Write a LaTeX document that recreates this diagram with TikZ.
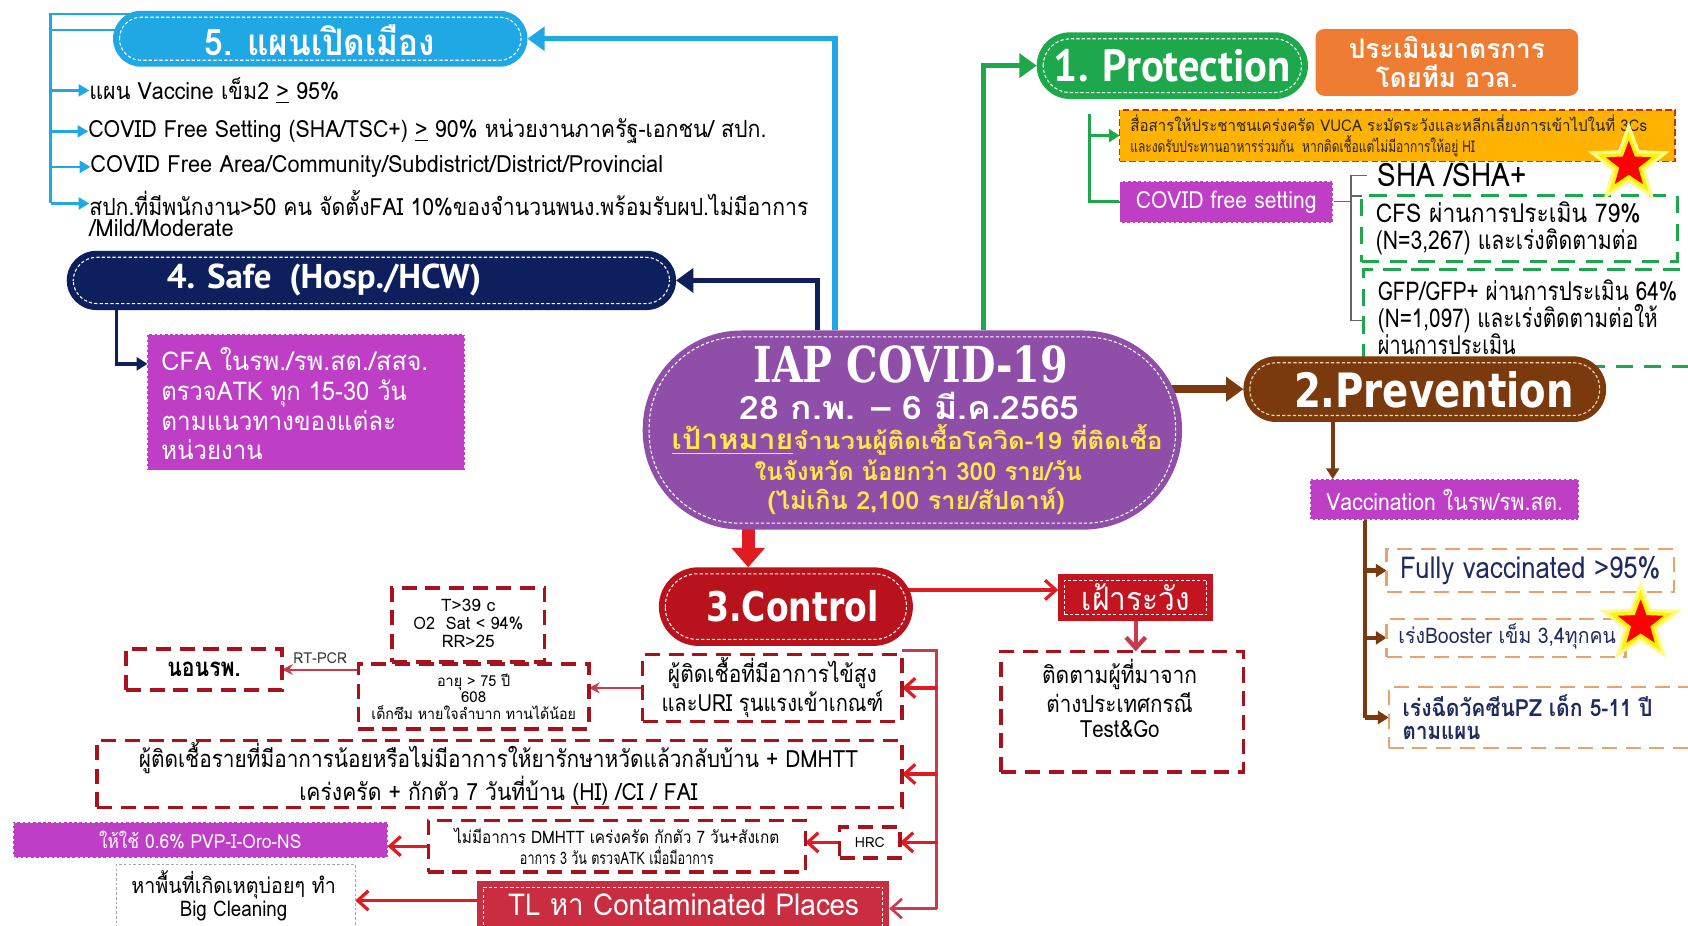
\documentclass[tikz,border=0pt]{standalone}
\usepackage{fontspec}
\usepackage{graphicx}
\usetikzlibrary{arrows.meta,shapes.geometric,fit,calc}
\setmainfont[Script=Thai]{Loma}
\newfontfamily\hsans{DejaVu Sans}
\newfontfamily\hcond{PT Sans}
\newfontfamily\hserif{DejaVu Serif}
\newcommand\fw[2]{\resizebox{#1}{\height}{#2}}
\newcommand\indash[3]{\draw[#3,line width=0.5pt,dash pattern=on 1.5pt off 1pt,rounded corners=#2] ([shift={(6,-6)}]#1.south west) rectangle ([shift={(-6,6)}]#1.north east);}
\definecolor{cblue}{HTML}{1FA8E4}
\definecolor{cnavy}{HTML}{0D1F5C}
\definecolor{cgreen}{HTML}{1EA84C}
\definecolor{corange}{HTML}{EE7D33}
\definecolor{cyel}{HTML}{FFB300}
\definecolor{cmag}{HTML}{BE3FC6}
\definecolor{cpurp}{HTML}{8F4FA8}
\definecolor{cbrown}{HTML}{7A3A0E}
\definecolor{cdred}{HTML}{B8121C}
\definecolor{cwatch}{HTML}{C3141F}
\definecolor{ctl}{HTML}{C92D3F}
\definecolor{cbox}{HTML}{A8121D}
\definecolor{cred}{HTML}{E11B22}
\definecolor{cpink}{HTML}{C83A4C}
\definecolor{cvnavy}{HTML}{1F2A60}
\definecolor{cvdash}{HTML}{E8A26A}
\definecolor{cgold}{HTML}{FFE84A}
\pgfdeclarelayer{back}
\pgfdeclarelayer{lines}
\pgfsetlayers{back,lines,main}
\begin{document}
\begin{tikzpicture}[x=0.5pt,y=-0.5pt,
  every node/.style={inner sep=0pt,outer sep=0pt},
  pill/.style={fill=#1,text=white},
  magbox/.style={fill=cmag,text=white,draw=white,line width=0.8pt,dash pattern=on 1.2pt off 1.2pt},
  rbox/.style={draw=cbox,line width=1.6pt,dash pattern=on 7pt off 4pt},
  vbox/.style={draw=cvdash,line width=1.1pt,dash pattern=on 7pt off 4pt},
  gbox/.style={draw=cgreen,line width=1.4pt,dash pattern=on 8pt off 5pt},
  bl/.style={draw=cblue,line width=1.2pt},
  blarr/.style={bl,-{Triangle[length=5pt,width=5.5pt]}},
  redarr/.style={draw=cred,line width=1.5pt,-{Straight Barb[length=5pt,width=9pt]}},
  pinkarr/.style={draw=cpink,line width=1.2pt,-{Straight Barb[length=5pt,width=9pt]}},
  pinkthin/.style={draw=cpink,line width=1pt,-{Stealth[length=5pt,width=5pt]}},
  brarr/.style={draw=cbrown,line width=2pt,-{Triangle[length=5pt,width=6pt]}},
  kline/.style={draw=black!60,line width=0.6pt},
  mystar/.style={star,star points=5,star point ratio=2.4,minimum size=27pt,fill=red,draw=yellow,line width=1.5pt,preaction={draw=yellow!45,line width=4.5pt}}
]
\begin{pgfonlayer}{back}
\fill[white] (0,0) rectangle (1568,860);
\end{pgfonlayer}
\useasboundingbox (0,0) rectangle (1568,860);

% ---------- 5 ----------
\node[pill=cblue,rounded corners=13pt,fit={(105,10)(490,62)}] (p5) {};
\indash{p5}{10pt}{white}
\node[text=white,font=\bfseries\fontsize{17}{19}\selectfont] (p5t) at (297,37) {\fw{107pt}{5. แผนเปิดเมือง}};
\node[anchor=west,font=\fontsize{11}{13}\selectfont] (l1) at (83,84) {\fw{116pt}{แผน Vaccine เข็ม2 \underline{>} 95\%}};
\node[anchor=west,font=\fontsize{11}{13}\selectfont] (l2) at (82,122) {\fw{315pt}{COVID Free Setting (SHA/TSC+) \underline{>} 90\% หน่วยงานภาครัฐ-เอกชน/ สปก.}};
\node[anchor=west,font=\fontsize{11}{13}\selectfont] (l3) at (84,155) {\fw{266pt}{COVID Free Area/Community/Subdistrict/District/Provincial}};
\node[anchor=west,font=\fontsize{11}{13}\selectfont] (l4) at (83,189) {\fw{334pt}{สปก.ที่มีพนักงาน>50 คน จัดตั้งFAI 10\%ของจำนวนพนง.พร้อมรับผป.ไม่มีอาการ}};
\node[anchor=west,font=\fontsize{11}{13}\selectfont] (l5) at (83,212) {\fw{67pt}{/Mild/Moderate}};

% ---------- 4 ----------
\node[pill=cnavy,rounded corners=13.75pt,fit={(62,233)(628,288)}] (p4) {};
\indash{p4}{11pt}{white}
\node[text=white,font=\hcond\bfseries\fontsize{16}{18}\selectfont] (p4t) at (301,260) {\fw{146pt}{4. Safe\ \ (Hosp./HCW)}};
\node[magbox,fit={(137,310)(432,437)}] (cfa) {};
\node[anchor=west,align=left,text=white,font=\fontsize{12}{13.75}\selectfont] (cfat) at (150,375) {\fw{124pt}{CFA ในรพ./รพ.สต./สสจ.}\\\fw{114pt}{ตรวจATK ทุก 15-30 วัน}\\\fw{109pt}{ตามแนวทางของแต่ละ}\\\fw{47pt}{หน่วยงาน}};

% ---------- IAP ----------
\node[pill=cpurp,rounded corners=46pt,fit={(597,307)(1098,492)}] (iap) {};
\indash{iap}{42pt}{white}
\node[text=white,font=\hserif\bfseries\fontsize{23}{25}\selectfont] (iap1) at (846,339) {\fw{146pt}{IAP COVID-19}};
\node[text=white,font=\bfseries\fontsize{15}{17}\selectfont] (iap2) at (845,377) {\fw{158pt}{28 ก.พ. – 6 มี.ค.2565}};
\node[text=cgold,font=\bfseries\fontsize{11}{13}\selectfont] (iap3) at (852,409) {\fw{228pt}{{\fontsize{13}{15}\selectfont\underline{เป้าหมาย}}จำนวนผู้ติดเชื้อโควิด-19 ที่ติดเชื้อ}};
\node[text=cgold,font=\bfseries\fontsize{11.5}{13}\selectfont] (iap4) at (853,437) {\fw{152pt}{ในจังหวัด น้อยกว่า 300 ราย/วัน}};
\node[text=cgold,font=\bfseries\fontsize{11.5}{13}\selectfont] (iap5) at (851,466) {\fw{138pt}{(ไม่เกิน 2,100 ราย/สัปดาห์)}};

% ---------- 1 ----------
\node[pill=cgreen,rounded corners=15.5pt,fit={(963,30)(1215,92)}] (p1) {};
\indash{p1}{12.5pt}{white}
\node[text=white,font=\hcond\bfseries\fontsize{21}{23}\selectfont] (p1t) at (p1.center) {\fw{110pt}{1. Protection}};
\node[fill=corange,rounded corners=4pt,fit={(1222,27)(1466,89)}] (ev) {};
\node[text=white,align=center,font=\bfseries\fontsize{12.5}{13.5}\selectfont] (evt) at (ev.center) {\fw{91pt}{ประเมินมาตรการ}\\\fw{66pt}{โดยทีม อวล.}};
\node[fill=cyel,draw=cbox!70!orange,line width=0.8pt,dash pattern=on 3pt off 1.5pt,fit={(1040,102)(1556,150)}] (yb) {};
\node[anchor=west,align=left,text=black!85,font=\fontsize{7.5}{9.5}\selectfont] (ybt) at (1050,126) {\fw{240pt}{สื่อสารให้ประชาชนเคร่งครัด VUCA ระมัดระวังและหลีกเลี่ยงการเข้าไปในที่ 3Cs}\\\fw{160pt}{และงดรับประทานอาหารร่วมกัน\ \ หากติดเชื้อแต่ไม่มีอาการให้อยู่ HI}};
\node[magbox,fit={(1040,168)(1238,207)}] (cfs) {};
\node[text=white,font=\fontsize{11}{13}\selectfont] (cfst0) at (cfs.center) {\fw{84pt}{COVID free setting}};
\node[anchor=west,font=\fontsize{15}{17}\selectfont] (sha) at (1280,163) {\fw{69pt}{SHA /SHA+}};
\node[gbox,fit={(1265,182)(1558,243)}] (cfsb) {};
\node[anchor=west,align=left,font=\fontsize{12}{12.5}\selectfont] (cfst) at (1278,212) {\fw{123pt}{CFS ผ่านการประเมิน 79\%}\\\fw{122pt}{(N=3,267) และเร่งติดตามต่อ}};
\node[gbox,fit={(1267,250)(1590,340)}] (gfpb) {};
\node[anchor=west,align=left,font=\fontsize{12}{12.5}\selectfont] (gfpt) at (1280,295) {\fw{139pt}{GFP/GFP+ ผ่านการประเมิน 64\%}\\\fw{130pt}{(N=1,097) และเร่งติดตามต่อให้}\\\fw{64pt}{ผ่านการประเมิน}};
\node[mystar] (st1) at (1513,153) {};

% ---------- 2 ----------
\node[pill=cbrown,rounded corners=15.25pt,fit={(1155,331)(1492,392)}] (p2) {};
\indash{p2}{12pt}{orange!30}
\node[text=white,font=\hsans\bfseries\fontsize{22}{24}\selectfont] (p2t) at (1332,362) {\fw{130pt}{2.Prevention}};
\node[magbox,fit={(1217,445)(1467,483)}] (vac) {};
\node[text=white,font=\fontsize{11}{13}\selectfont] (vact) at (vac.center) {\fw{110pt}{Vaccination ในรพ/รพ.สต.}};
\node[vbox,fit={(1288,510)(1555,550)}] (fv) {};
\node[text=cvnavy,font=\fontsize{14}{16}\selectfont] (fvt) at (fv.center) {\fw{121pt}{Fully vaccinated >95\%}};
\node[vbox,fit={(1288,575)(1510,610)}] (bo) {};
\node[text=cvnavy,font=\fontsize{10}{12}\selectfont] (bot) at (1400,591) {\fw{101pt}{เร่งBooster เข็ม 3,4ทุกคน}};
\node[vbox,fit={(1290,638)(1590,695)}] (pz) {};
\node[anchor=west,align=left,text=cvnavy,font=\bfseries\fontsize{11}{11}\selectfont] (pzt) at (1303,666) {\fw{116pt}{เร่งฉีดวัคซีนPZ เด็ก 5-11 ปี}\\\fw{36pt}{ตามแผน}};
\node[mystar] (st2) at (1524,579) {};

% ---------- 3 ----------
\node[pill=cdred,rounded corners=18.25pt,fit={(612,527)(848,600)}] (ctl) {};
\indash{ctl}{15pt}{white}
\node[text=white,font=\hsans\bfseries\fontsize{19}{21}\selectfont] (ctlt) at (736,563) {\fw{80pt}{3.Control}};
\node[fill=cwatch,fit={(983,533)(1127,577)}] (fw) {};
\indash{fw}{0pt}{white}
\node[text=white,font=\fontsize{15}{17}\selectfont] (fwt) at (fw.center) {\fw{50pt}{เฝ้าระวัง}};
\node[rbox,fit={(930,605)(1155,717)}] (tg) {};
\node[align=center,font=\fontsize{11}{12}\selectfont] (tgt) at (1040,649) {\fw{72pt}{ติดตามผู้ที่มาจาก}\\\fw{68pt}{ต่างประเทศกรณี}\\\fw{37pt}{Test\&Go}};
\node[rbox,fit={(597,608)(838,670)}] (fever) {};
\node[align=center,font=\fontsize{11}{12}\selectfont] (fevert) at (fever.center) {\fw{97pt}{ผู้ติดเชื้อที่มีอาการไข้สูง}\\\fw{103pt}{และURI รุนแรงเข้าเกณฑ์}};
\node[rbox,fit={(364,546)(506,615)}] (tb) {};
\node[align=center,font=\fontsize{8}{8.5}\selectfont] (tbt) at (435,579) {T>39 c\\\fw{51pt}{O2\ \ Sat < 94\%}\\RR>25};
\node[rbox,fill=white,fit={(333,617)(547,677)}] (age) {};
\node[align=center,font=\fontsize{7}{7.75}\selectfont] (aget) at (age.center) {\fw{34pt}{อายุ > 75 ปี}\\608\\\fw{95pt}{เด็กซึม หายใจลำบาก ทานได้น้อย}};
\node[rbox,fit={(117,603)(262,641)}] (nr) {};
\node[font=\bfseries\fontsize{12}{14}\selectfont] (nrt) at (nr.center) {\fw{34pt}{นอนรพ.}};
\node[rbox,fit={(90,688)(838,750)}] (big) {};
\node[align=center,font=\fontsize{11}{12}\selectfont] (bigt) at (463,719) {\fw{334pt}{ผู้ติดเชื้อรายที่มีอาการน้อยหรือไม่มีอาการให้ยารักษาหวัดแล้วกลับบ้าน + DMHTT}\\\fw{185pt}{เคร่งครัด + กักตัว 7 วันที่บ้าน (HI) /CI / FAI}};
\node[rbox,fit={(780,768)(836,797)}] (hrc) {};
\node[font=\fontsize{6.5}{8}\selectfont] (hrct) at (hrc.center) {HRC};
\node[rbox,fit={(398,762)(748,810)}] (nosym) {};
\node[align=center,font=\fontsize{8}{9.5}\selectfont] (nosymt) at (nosym.center) {\fw{151pt}{ไม่มีอาการ DMHTT เคร่งครัด กักตัว 7 วัน+สังเกต}\\\fw{90pt}{อาการ 3 วัน ตรวจATK เมื่อมีอาการ}};
\node[magbox,fit={(12,764)(360,797)}] (pvp) {};
\node[text=white,font=\fontsize{9}{11}\selectfont] (pvpt) at (pvp.center) {\fw{94pt}{ให้ใช้ 0.6\% PVP-I-Oro-NS}};
\node[fill=ctl,fit={(443,818)(826,870)}] (tl) {};
\indash{tl}{0pt}{white}
\node[text=white,font=\fontsize{14}{16}\selectfont] (tlt) at (635,840) {\fw{163pt}{TL หา Contaminated Places}};
\node[draw=gray!70,line width=0.5pt,dash pattern=on 1.2pt off 1pt,fit={(108,803)(330,870)}] (bc) {};
\node[align=center,font=\fontsize{10}{10.5}\selectfont] (bct) at (217,832) {\fw{95pt}{หาพื้นที่เกิดเหตุบ่อยๆ ทำ}\\\fw{50pt}{Big Cleaning}};

% ---------- connectors ----------
\begin{pgfonlayer}{lines}
\draw[cblue,line width=2.5pt,-{Triangle[length=8pt,width=11pt]}] ([xshift=-36pt]iap.north) |- (p5.east);
\draw[cnavy,line width=2.5pt,-{Triangle[length=8pt,width=11pt]}] ([xshift=-44pt]iap.north) |- (p4.east);
\draw[cgreen,line width=2.5pt,-{Triangle[length=8pt,width=11pt]}] ([xshift=33pt]iap.north) |- (p1.west);
\coordinate (v5a) at (47,13);
\coordinate (v5b) at (47,28);
\draw[bl] (p5.center |- v5a) -- (v5a) -- (v5a |- l4.west);
\draw[bl] (p5.center |- v5b) -- (v5b);
\draw[blarr] (v5a |- l1.west) -- (l1.west);
\draw[blarr] (v5a |- l2.west) -- (l2.west);
\draw[blarr] (v5a |- l3.west) -- (l3.west);
\draw[blarr] (v5a |- l4.west) -- (l4.west);
\coordinate (c4) at (108,338);
\draw[cnavy,line width=1.6pt,-{Triangle[length=5pt,width=6pt]}] (p4.center -| c4) -- (c4) -- (c4 -| cfa.west);
\coordinate (g1) at (1012,106);
\draw[cgreen,line width=1.5pt,-{Triangle[length=5pt,width=6pt]}] (g1) |- (yb.west);
\draw[cgreen,line width=1.5pt] (g1) |- (cfs.west);
\coordinate (k1) at (1255,163);
\coordinate (k2) at (1255,298);
\draw[kline] (cfs.east) -- (cfs.east -| k1);
\draw[kline] ([xshift=-5pt]sha.west) -- (k1) -- (k2) -- (k2 -| gfpb.west);
\draw[kline] (k1 |- cfsb.north) -- (cfsb.north west);
\draw[cbrown,line width=4pt,-{Triangle[length=8pt,width=11pt]}] (iap.center |- p2.west) -- (p2.west);
\coordinate (vx) at (1238,0);
\draw[brarr] (p2.center -| vx) -- (vac.north -| vx);
\coordinate (vb) at (1268,0);
\draw[cbrown,line width=2pt] (vac.center -| vb) -- (pz.west -| vb);
\draw[brarr] (fv.west -| vb) -- (fv.west);
\draw[brarr] (bo.west -| vb) -- (bo.west);
\draw[brarr] (pz.west -| vb) -- (pz.west);
\coordinate (cx) at (695,0);
\draw[cred,line width=6pt,-{Triangle[length=9pt,width=15pt]}] (iap.center -| cx) -- (ctl.north -| cx);
\coordinate (ay) at (0,548);
\draw[redarr] (ctl.center |- ay) -- (fw.west |- ay);
\draw[cpink,line width=2pt,-{Straight Barb[length=5pt,width=9pt]}] (fw.south) -- (fw.south |- tg.north);
\coordinate (bt) at (870,604);
\draw[cpink,line width=1.2pt] (fever.north east |- bt) -- (bt) -- (bt |- tl.east);
\draw[redarr] (bt |- fever.east) -- (fever.east);
\draw[redarr] (bt |- big.east) -- (big.east);
\draw[redarr] (bt |- hrc.east) -- (hrc.east);
\draw[pinkarr] (bt |- tl.east) -- (tl.east);
\draw[pinkthin] (fever.west) -- (fever.west -| age.east);
\draw[pinkthin] (age.west |- nr.east) -- (nr.east) node[midway,above=3pt,text=black!80,font=\fontsize{7}{8}\selectfont] (rt) {\fw{25pt}{RT-PCR}};
\draw[redarr] (hrc.west) -- (hrc.west -| nosym.east);
\draw[redarr] (nosym.west) -- (nosym.west -| pvp.east);
\draw[redarr] (tl.west |- bc.east) -- (bc.east);
\end{pgfonlayer}
\end{tikzpicture}
\end{document}
